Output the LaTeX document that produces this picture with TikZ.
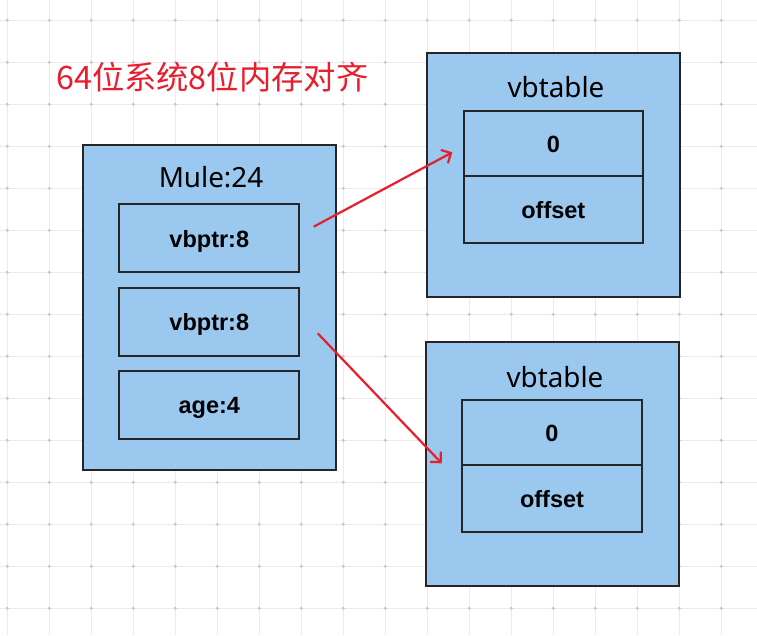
\documentclass[tikz,border=0pt]{standalone}
\usepackage{fontspec}
\setmainfont{Noto Sans}
\newfontfamily\lblfont{Liberation Sans}
\newfontfamily\cjk{Noto Sans CJK SC}
\usetikzlibrary{arrows.meta}
\definecolor{boxfill}{RGB}{155,200,238}
\definecolor{boxline}{RGB}{38,38,38}
\definecolor{gridline}{RGB}{235,235,235}
\definecolor{griddot}{RGB}{200,200,200}
\definecolor{redtext}{RGB}{232,30,45}
\tikzset{
  outerbox/.style={draw=boxline, fill=boxfill, line width=2pt, minimum width=252.7pt, inner sep=0pt},
  cellbox/.style={draw=boxline, fill=boxfill, line width=2pt, inner sep=0pt, text height=18pt, text depth=0pt, font=\lblfont\bfseries\fontsize{23.5}{26}\selectfont},
  titletext/.style={inner sep=0pt, font=\fontsize{27.8}{32}\selectfont, text=black},
  ptrarrow/.style={draw=redtext, line width=2.2pt, -{Straight Barb[length=7.5pt,width=15pt,line width=2.2pt]}}
}
\begin{document}
\begin{tikzpicture}[x=1pt,y=-1pt]
\useasboundingbox (0,0) rectangle (757,635);
\fill[white] (0,0) rectangle (757,635);
% grid
\foreach \k in {0,...,17} {\draw[gridline, line width=1.3pt] ({7.3+42*\k},0) -- ({7.3+42*\k},635);}
\foreach \k in {0,...,14} {\draw[gridline, line width=1.3pt] (0,{20.3+42*\k}) -- (757,{20.3+42*\k});}
\foreach \i in {0,...,17} {\foreach \j in {0,...,14} {\fill[griddot] ({7.3+42*\i},{20.3+42*\j}) circle (1.7pt);}}
% heading
\node[anchor=west, inner sep=0pt, text=redtext, font=\cjk\fontsize{32.3}{35}\selectfont] (heading) at (56,77) {64位系统8位内存对齐};
% Mule
\node[outerbox, minimum height=325pt] (mule) at (209.7,307.5) {};
\node[titletext] (muletitle) at (211,177) {Mule:24};
\node[cellbox, minimum width=180pt, minimum height=68pt] (vbp1) at (209.3,238) {vbptr:8};
\node[cellbox, minimum width=180pt, minimum height=68pt] (vbp2) at (209.3,321.7) {vbptr:8};
\node[cellbox, minimum width=180pt, minimum height=68pt] (age) at (209.3,404.7) {age:4};
% vbtable 1
\node[outerbox, minimum height=244pt] (vt1) at (553.7,174.7) {};
\node[titletext] (vt1title) at (556,87) {vbtable};
\node[cellbox, minimum width=179.3pt, minimum height=65pt] (vt1zero) at (553.3,143.2) {0};
\node[cellbox, minimum width=179.3pt, minimum height=67.3pt] (vt1off) at (553.3,209.3) {offset};
% vbtable 2
\node[outerbox, minimum height=244.3pt] (vt2) at (552.7,464.2) {};
\node[titletext] (vt2title) at (555,377) {vbtable};
\node[cellbox, minimum width=179.4pt, minimum height=65pt] (vt2zero) at (552,432.8) {0};
\node[cellbox, minimum width=179.4pt, minimum height=67pt] (vt2off) at (552,498.8) {offset};
% arrows
\coordinate (a1s) at ([xshift=13.4pt,yshift=11.3pt]vbp1.east);
\coordinate (a1e) at ([xshift=-10.3pt,yshift=-9.1pt]vt1zero.west);
\coordinate (a2s) at ([xshift=17.4pt,yshift=-11.6pt]vbp2.east);
\coordinate (a2e) at ([xshift=-19.6pt,yshift=-30.5pt]vt2zero.west);
\draw[ptrarrow] (a1s) -- (a1e);
\draw[ptrarrow] (a2s) -- (a2e);
\end{tikzpicture}
\end{document}
